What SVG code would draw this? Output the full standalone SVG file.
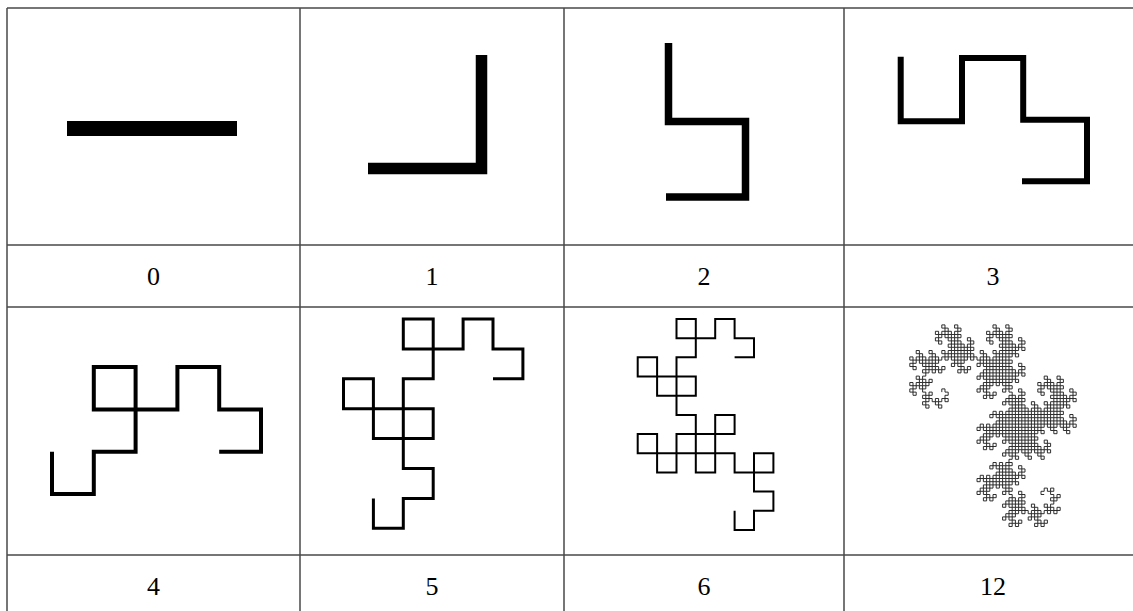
<svg xmlns="http://www.w3.org/2000/svg" width="1133" height="611" viewBox="0 0 1133 611">
<style>
.grid{stroke:#4a4a4a;stroke-width:1.5;fill:none}
.curve{fill:none;stroke:#000;stroke-linecap:butt;stroke-linejoin:miter}
.lbl{font-family:"Liberation Serif","Times New Roman",serif;font-size:26px;fill:#000;text-anchor:middle}
.fine{fill:none;stroke:#1a1a1a;stroke-width:0.9;vector-effect:non-scaling-stroke}
</style>
<defs>
<path id="d4" class="fine" d="M0 0h1v-1h-1v-1h-1v1h-1v-1h-1v1h1v1h-1v1h-1v-1"/>
<g id="d5"><use href="#d4"/><use href="#d4" transform="rotate(90 -4 0)"/></g>
<g id="d6"><use href="#d5"/><use href="#d5" transform="rotate(90 -4 4)"/></g>
<g id="d7"><use href="#d6"/><use href="#d6" transform="rotate(90 0 8)"/></g>
<g id="d8"><use href="#d7"/><use href="#d7" transform="rotate(90 8 8)"/></g>
<g id="d9"><use href="#d8"/><use href="#d8" transform="rotate(90 16 0)"/></g>
<g id="d10"><use href="#d9"/><use href="#d9" transform="rotate(90 16 -16)"/></g>
<g id="d11"><use href="#d10"/><use href="#d10" transform="rotate(90 0 -32)"/></g>
</defs>
<rect x="0" y="0" width="1133" height="611" fill="#fff"/>
<g id="table" class="grid">
<path d="M7 8H1133M7 245H1133M7 307H1133M7 555H1133"/>
<path d="M7 8V611M300 8V611M564 8V611M844 8V611"/>
</g>
<g id="connectors"></g>
<g id="gen0">
<path class="curve" stroke-width="15" d="M67 128.5H237"/>
<text class="lbl" x="153.5" y="285">0</text>
</g>
<g id="gen1">
<path class="curve" stroke-width="11.5" d="M368 168.5H481.5V55"/>
<text class="lbl" x="432" y="285">1</text>
</g>
<g id="gen2">
<path class="curve" stroke-width="7.5" d="M666 197H745.5V121.5H668.5V43"/>
<text class="lbl" x="704" y="285">2</text>
</g>
<g id="gen3">
<path class="curve" stroke-width="6" d="M1022 181.2H1087V119.7H1023.2V58H962V121.3H900.7V56.7"/>
<text class="lbl" x="993" y="285">3</text>
</g>
<g id="gen4">
<path class="curve" stroke-width="4" d="M219.2 451.7H261V409.4H219.2V367.1H177.4V409.4H135.6V367.1H93.8V409.4H135.6V451.7H93.8V494H52V451.7"/>
<text class="lbl" x="153.5" y="595">4</text>
</g>
<g id="gen5">
<path class="curve" stroke-width="3" d="M493 378.8H522.9V348.9H493V319H463.1V348.9H433.2V319H403.3V348.9H433.2V378.8H403.3V408.7H373.4V378.8H343.5V408.7H373.4V438.6H403.3V408.7H433.2V438.6H403.3V468.5H433.2V498.4H403.3V528.3H373.4V498.4"/>
<text class="lbl" x="432" y="595">5</text>
</g>
<g id="gen6">
<path class="curve" stroke-width="2" d="M734.6 357.3H754V338.2H734.6V319H715.2V338.2H695.8V319H676.5V338.2H695.8V357.3H676.5V376.5H657.1V357.3H637.7V376.5H657.1V395.7H676.5V376.5H695.8V395.7H676.5V414.9H695.8V434H676.5V453.2H657.1V434H637.7V453.2H657.1V472.4H676.5V453.2H695.8V472.4H715.2V453.2H695.8V434H715.2V414.9H734.6V434H715.2V453.2H734.6V472.4H754V453.2H773.4V472.4H754V491.5H773.4V510.7H754V529.9H734.6V510.7"/>
<text class="lbl" x="704" y="595">6</text>
</g>
<g id="gen12">
<use href="#d11" transform="translate(993 430.5) scale(3.2) scale(-1 1) rotate(270) translate(12 16)"/>
<text class="lbl" x="993" y="595">12</text>
</g>
</svg>
